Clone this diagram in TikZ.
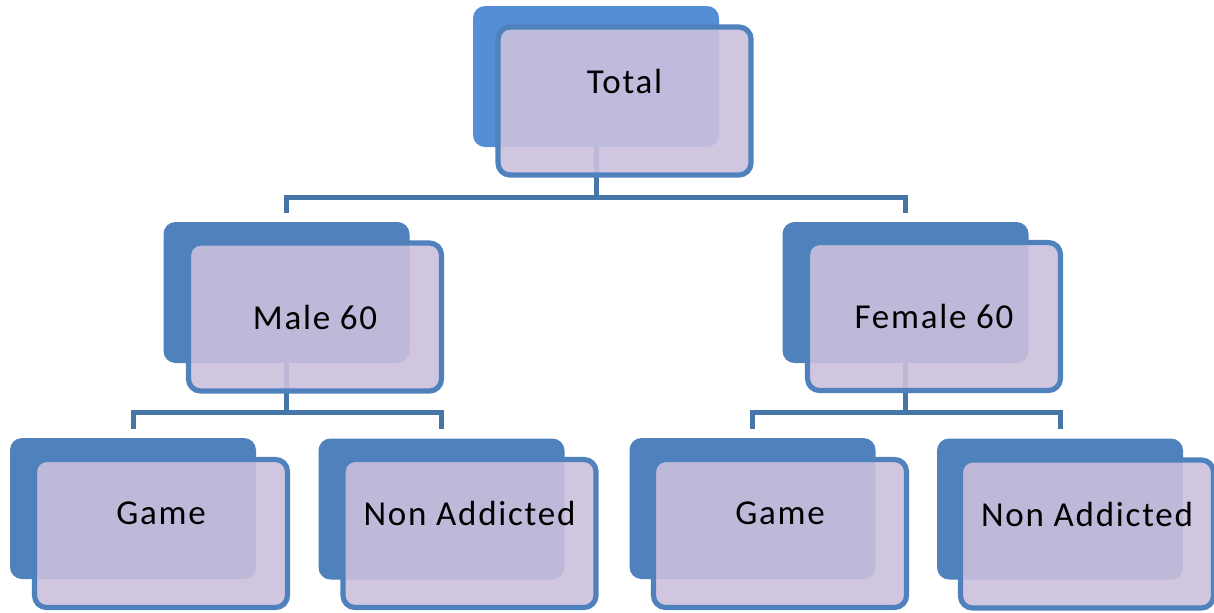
\documentclass[tikz,border=0pt]{standalone}
\usepackage{fontspec}
\setmainfont{Carlito}[LetterSpace=5]
\usepackage{tikz}
\definecolor{backtop}{RGB}{85,142,213}
\definecolor{backblue}{RGB}{79,129,189}
\definecolor{frontfill}{RGB}{203,192,221}
\definecolor{linkblue}{RGB}{70,118,168}

\begin{document}
\begin{tikzpicture}[x=0.5pt, y=-0.5pt,
    back/.style={rounded corners=6pt, fill=backblue, minimum width=123pt, minimum height=70.5pt, inner sep=0pt},
    front/.style={rounded corners=6pt, draw=backblue, line width=2.6pt, fill=frontfill, fill opacity=.9, text opacity=1,
                  minimum width=126.5pt, minimum height=74pt, inner sep=0pt, font=\fontsize{17.5}{20}\selectfont},
    raised/.style={text depth=20pt},
    link/.style={draw=linkblue, line width=2.5pt}]
    \useasboundingbox (0,0) rectangle (1214,612);

    % back boxes
    \node[back, fill=backtop] (totalb) at (596,76.5) {};
    \node[back] (maleb) at (286.5,292.5) {};
    \node[back] (femaleb) at (905.5,292.5) {};
    \node[back] (mgameb) at (133,508.5) {};
    \node[back] (mnonb) at (441.5,509) {};
    \node[back] (fgameb) at (752.5,508.5) {};
    \node[back] (fnonb) at (1060,509) {};

    % connectors
    \draw[link] (totalb.south) -- ++(0,-25pt) -| ([yshift=4.5pt]maleb.north);
    \draw[link] (totalb.south) -- ++(0,-25pt) -| ([yshift=4.5pt]femaleb.north);
    \draw[link] (maleb.south) -- ++(0,-24.5pt) -| ([yshift=4.5pt]mgameb.north);
    \draw[link] (maleb.south) -- ++(0,-24.5pt) -| ([yshift=4.5pt]mnonb.north);
    \draw[link] (femaleb.south) -- ++(0,-24.5pt) -| ([yshift=4.5pt]fgameb.north);
    \draw[link] (femaleb.south) -- ++(0,-24.5pt) -| ([yshift=4.5pt]fnonb.north);

    % front boxes
    \node[front, raised] (total) at (624.5,101) {Total};
    \node[front] (male) at (315,317) {Male 60};
    \node[front] (female) at (934,316.5) {Female 60};
    \node[front, raised] (mgame) at (161,533.5) {Game};
    \node[front, raised] (mnon) at (469.5,533.5) {Non Addicted};
    \node[front, raised] (fgame) at (780,533.5) {Game};
    \node[front, raised] (fnon) at (1087,534) {Non Addicted};
\end{tikzpicture}
\end{document}
